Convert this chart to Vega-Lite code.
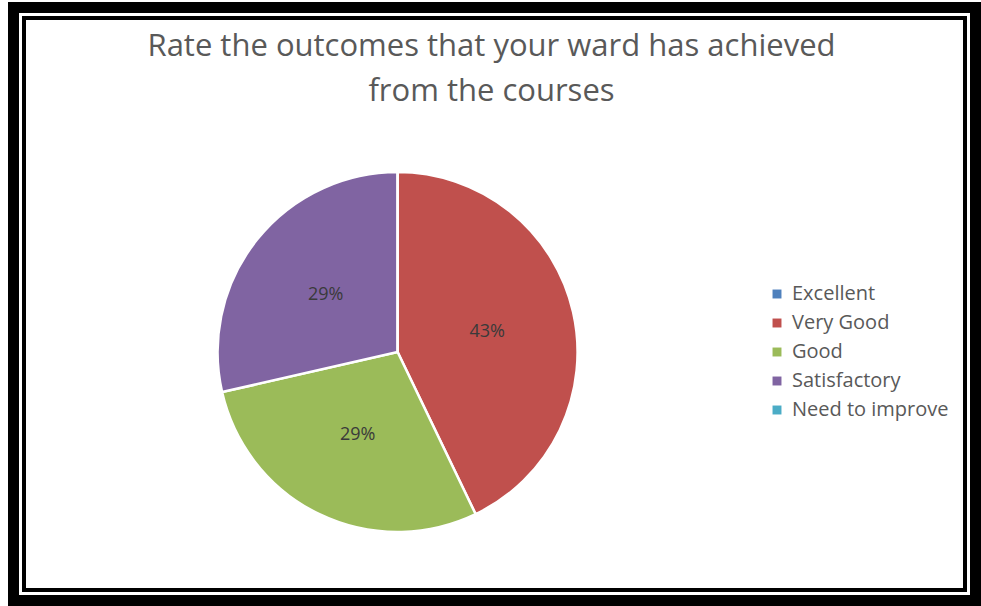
{
  "$schema": "https://vega.github.io/schema/vega-lite/v6.json",
  "width": 981,
  "height": 606,
  "autosize": {"type": "fit", "contains": "padding"},
  "padding": {"left": 8, "top": 2, "right": 0, "bottom": 0},
  "background": "white",
  "config": {"view": {"stroke": null}},
  "title": {
    "text": ["Rate the outcomes that your ward has achieved", "from the courses"],
    "font": "Open Sans",
    "fontSize": 31,
    "fontWeight": "normal",
    "color": "#595959",
    "lineHeight": 45,
    "anchor": "middle",
    "dx": -3,
    "offset": -106
  },
  "layer": [
    {
      "data": {"values": [{"frame": "outer"}]},
      "mark": {"type": "rect", "fill": null, "stroke": "black", "strokeWidth": 32},
      "encoding": {}
    },
    {
      "data": {"values": [{"frame": "gap"}]},
      "mark": {"type": "rect", "fill": null, "stroke": "white", "strokeWidth": 10},
      "encoding": {}
    },
    {
      "data": {"values": [{"frame": "inner"}]},
      "mark": {"type": "rect", "fill": "white", "stroke": "black", "strokeWidth": 4},
      "encoding": {}
    },
    {
      "data": {"name": "ratings", "values": [
        {"rating": "Excellent", "share": 0, "order": 1},
        {"rating": "Very Good", "share": 0.4286, "order": 2},
        {"rating": "Good", "share": 0.2857, "order": 3},
        {"rating": "Satisfactory", "share": 0.2857, "order": 4},
        {"rating": "Need to improve", "share": 0, "order": 5}
      ]},
      "layer": [
        {
          "mark": {"type": "arc", "radius": 180, "stroke": "white", "strokeWidth": 2.5, "x": {"expr": "width*0.397"}, "y": {"expr": "height*0.584"}},
          "encoding": {
            "theta": {"field": "share", "type": "quantitative", "stack": true},
            "order": {"field": "order", "type": "quantitative"},
            "color": {
              "field": "rating",
              "type": "nominal",
              "scale": {
                "domain": ["Excellent", "Very Good", "Good", "Satisfactory", "Need to improve"],
                "range": ["#4F81BD", "#C0504D", "#9BBB59", "#8064A2", "#4BACC6"]
              },
              "legend": {
                "title": null,
                "orient": "none",
                "legendX": 743,
                "legendY": 266,
                "symbolType": "square",
                "symbolSize": 80,
                "symbolStrokeWidth": 0,
                "labelFont": "Open Sans",
                "labelFontSize": 20,
                "labelColor": "#595959",
                "rowPadding": 9,
                "labelOffset": 5,
                "padding": 0
              }
            }
          }
        },
        {
          "transform": [{"filter": "datum.share > 0"}],
          "mark": {"type": "text", "radius": 92, "font": "Open Sans", "fontSize": 18, "color": "#3a3a3a", "x": {"expr": "width*0.397"}, "y": {"expr": "height*0.584"}},
          "encoding": {
            "theta": {"field": "share", "type": "quantitative", "stack": true},
            "order": {"field": "order", "type": "quantitative"},
            "text": {"field": "share", "type": "quantitative", "format": ".0%"}
          }
        }
      ]
    }
  ]
}
